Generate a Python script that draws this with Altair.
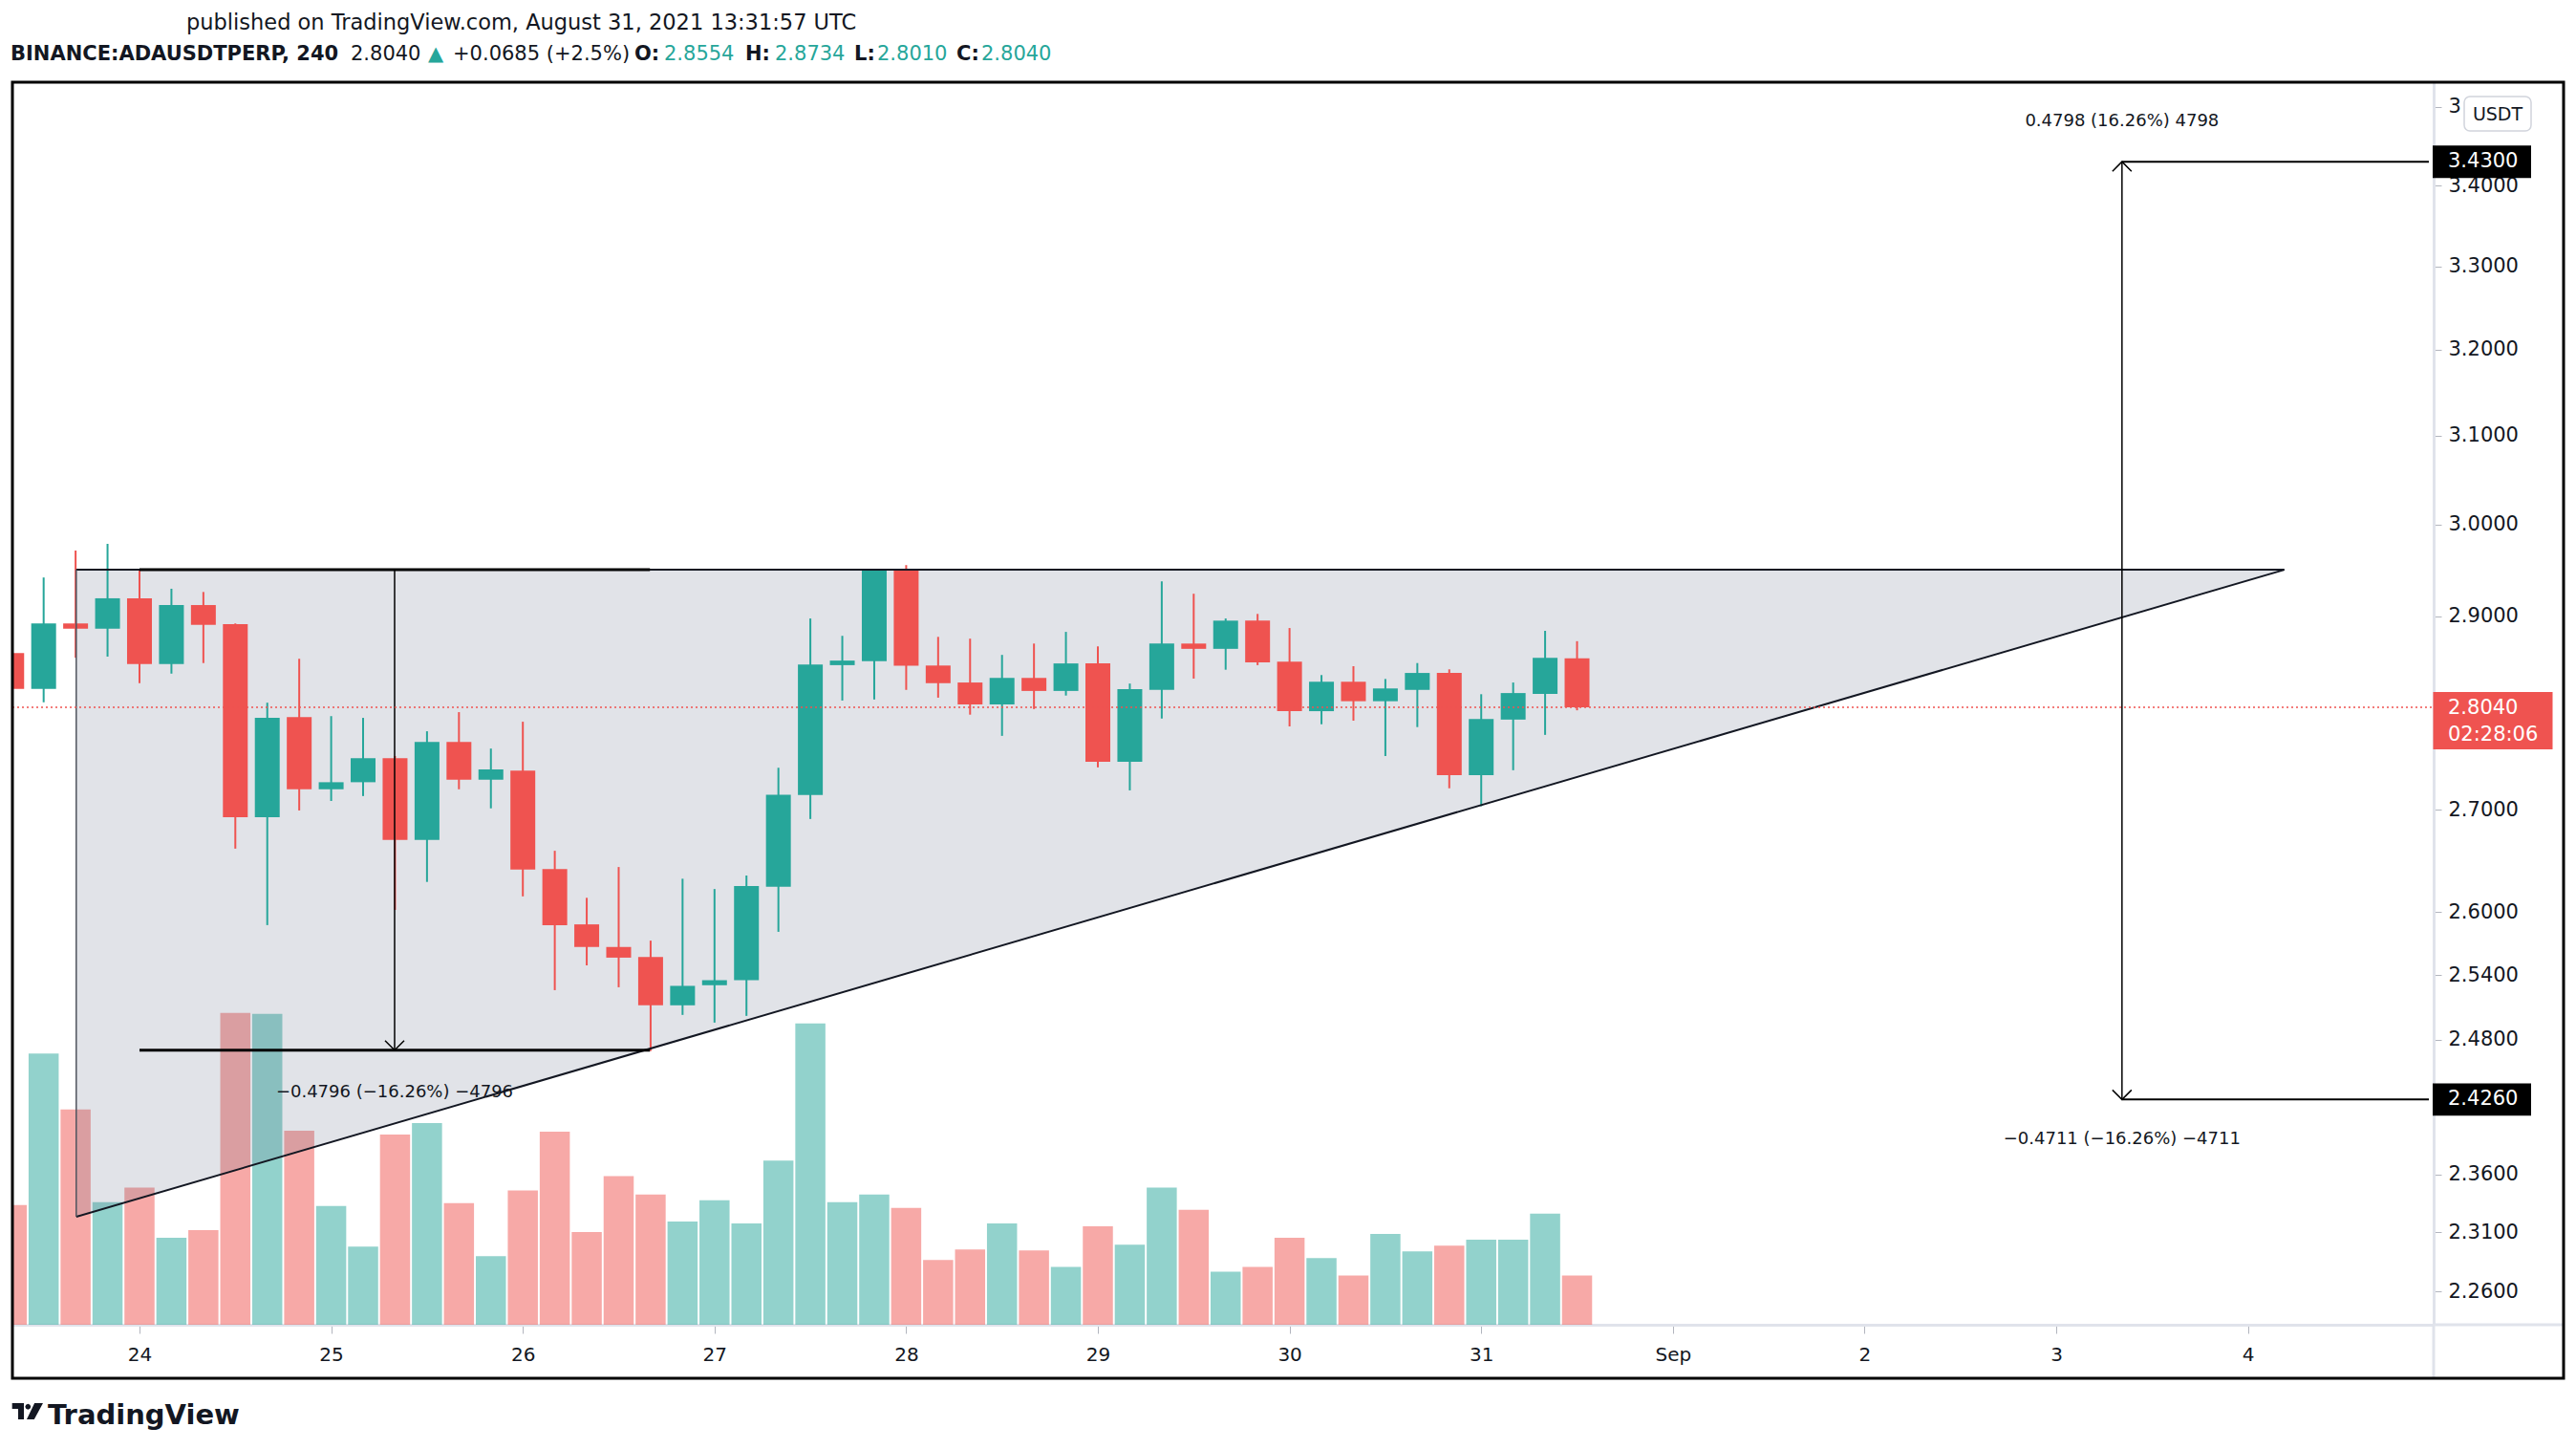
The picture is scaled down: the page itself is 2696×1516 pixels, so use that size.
import altair as alt
import pandas as pd
import numpy as np

# ---------------- data (4h candles, BINANCE:ADAUSDTPERP) ----------------
first_candle_day = 23 + 8 / 24      # Aug 23 08:00 UTC, day-of-August scale
candle_step = 4 / 24                # 240 minutes
opens = [2.8608, 2.8233, 2.8923, 2.8867, 2.9193, 2.8492, 2.9120, 2.8915, 2.6926, 2.7939,
         2.7205, 2.7276, 2.7519, 2.6702, 2.7685, 2.7301, 2.7393, 2.6414, 2.5881, 2.5666,
         2.5572, 2.5119, 2.5306, 2.5353, 2.6242, 2.7148, 2.8481, 2.8522, 2.9496, 2.8477,
         2.8299, 2.8071, 2.8347, 2.8211, 2.8499, 2.7483, 2.8222, 2.8709, 2.8653, 2.8953,
         2.8518, 2.8001, 2.8307, 2.8104, 2.8222, 2.8399, 2.7347, 2.7914, 2.8181, 2.8554]
highs = [2.8750, 2.9418, 2.9712, 2.9786, 2.9507, 2.9296, 2.9261, 2.8923, 2.8089, 2.8548,
         2.7950, 2.7932, 2.7541, 2.7794, 2.7991, 2.7617, 2.7892, 2.6594, 2.6136, 2.6435,
         2.5726, 2.6321, 2.6221, 2.6352, 2.7422, 2.8976, 2.8791, 2.9510, 2.9553, 2.8780,
         2.8761, 2.8589, 2.8709, 2.8833, 2.8679, 2.8288, 2.9376, 2.9242, 2.8976, 2.9025,
         2.8874, 2.8377, 2.8470, 2.8336, 2.8503, 2.8437, 2.8177, 2.8299, 2.8844, 2.8734]
lows = [2.8150, 2.8093, 2.8559, 2.8571, 2.8292, 2.8392, 2.8503, 2.6615, 2.5874, 2.6993,
        2.7088, 2.7137, 2.6020, 2.6290, 2.7205, 2.7014, 2.6150, 2.5260, 2.5492, 2.5287,
        2.4699, 2.5030, 2.4959, 2.5021, 2.5810, 2.6908, 2.8111, 2.8122, 2.8222, 2.8141,
        2.7965, 2.7747, 2.8023, 2.8163, 2.7426, 2.7194, 2.7925, 2.8340, 2.8433, 2.8481,
        2.7844, 2.7866, 2.7903, 2.7541, 2.7837, 2.7215, 2.7035, 2.7397, 2.7757, 2.8010]
closes = [2.8233, 2.8923, 2.8867, 2.9193, 2.8492, 2.9120, 2.8908, 2.6926, 2.7932, 2.7205,
          2.7276, 2.7519, 2.6702, 2.7685, 2.7301, 2.7404, 2.6410, 2.5874, 2.5666, 2.5565,
          2.5119, 2.5300, 2.5353, 2.6249, 2.7151, 2.8488, 2.8529, 2.9496, 2.8474, 2.8292,
          2.8071, 2.8347, 2.8211, 2.8499, 2.7483, 2.8229, 2.8709, 2.8653, 2.8953, 2.8511,
          2.8001, 2.8307, 2.8104, 2.8237, 2.8399, 2.7347, 2.7921, 2.8189, 2.8559, 2.8040]
volumes = [372, 843, 669, 381, 426, 270, 294, 969, 966, 603,
           369, 243, 591, 627, 378, 213, 417, 600, 288, 462,
           405, 321, 387, 315, 510, 936, 381, 405, 363, 201,
           234, 315, 231, 180, 306, 249, 426, 357, 165, 180,
           270, 207, 153, 282, 228, 246, 264, 264, 345, 153]

y_ticks = [2.26, 2.31, 2.36, 2.48, 2.54, 2.6, 2.7, 2.9, 3.0, 3.1, 3.2, 3.3, 3.4, 3.5]
x_ticks = [24, 25, 26, 27, 28, 29, 30, 31, 32, 33, 34, 35]

last_price = 2.8040
# ascending triangle drawing
tri_days = [23.670, 35.19]
tri_lower = [2.3232, 2.9502]
tri_upper = [2.9502, 2.9502]
# left price-range tool
range1_days = [24.0, 26.663]
range1_mid = 25.331
range1_top, range1_bottom = 2.9502, 2.4706
# right-hand projection arrows
proj_day = 34.343
proj_up, proj_down = 3.4300, 2.4260
x_right_edge = 35.944

label_left = "\u22120.4796 (\u221216.26%) \u22124796"
label_up = "0.4798 (16.26%) 4798"
label_down = "\u22120.4711 (\u221216.26%) \u22124711"

# ---------------- layout / style ----------------
W, H = 2534, 1300
GREEN, RED = "#26a69a", "#ef5350"
TXT = "#131722"
FONT = "DejaVu Sans"

df = pd.DataFrame({
    "day": [first_candle_day + i * candle_step for i in range(len(opens))],
    "open": opens, "high": highs, "low": lows, "close": closes, "volume": volumes,
})
df["dir"] = np.where(df["close"] >= df["open"], "up", "down")

xscale = alt.Scale(domain=[23.362, 35.944], nice=False, zero=False)
yscale = alt.Scale(type="log", domain=[2.2324, 3.5322], nice=False)
cscale = alt.Scale(domain=["up", "down"], range=[GREEN, RED])

x_axis = alt.Axis(
    values=x_ticks, title=None, grid=False,
    labelExpr="datum.value == 32 ? 'Sep' : (datum.value > 32 ? format(datum.value - 31, 'd') : format(datum.value, 'd'))",
    domainColor="#e0e3eb", domainWidth=3, tickColor="#b2b5be", tickSize=9, tickWidth=1,
    labelPadding=28, labelBaseline="alphabetic", labelFontSize=20, labelFont=FONT,
    labelColor=TXT, labelFlush=False, labelOverlap=False,
)
# the top tick (3.5) is mostly hidden behind the currency badge: only its "3" shows
y_axis = alt.Axis(
    orient="right", values=y_ticks, title=None, grid=False,
    labelExpr="datum.value > 3.45 ? '3' : format(datum.value, '.4f')",
    domainColor="#e0e3eb", domainWidth=3, tickColor="#b2b5be", tickSize=8, tickWidth=1,
    labelPadding=7, labelAlign="left", labelBaseline="middle", labelFontSize=21,
    labelFont=FONT, labelColor=TXT, labelFlush=False, labelOverlap=False,
)


def X(field):
    return alt.X(field, scale=xscale, axis=x_axis)


def Y(field):
    return alt.Y(field, scale=yscale, axis=y_axis)


one = pd.DataFrame({"a": [0]})

# volume (own y scale, bottom of pane)
volume = alt.Chart(df).mark_bar(size=31.5, opacity=0.5, clip=True, orient="vertical").encode(
    x=X("day:Q"),
    y=alt.Y("volume:Q", scale=alt.Scale(domain=[0, 3861], nice=False), axis=None, stack=None),
    color=alt.Color("dir:N", scale=cscale, legend=None),
)

tri_df = pd.DataFrame({"day": tri_days, "lo": tri_lower, "hi": tri_upper})
tri_fill = alt.Chart(tri_df).mark_area(color="#69738c", opacity=0.2).encode(
    x=X("day:Q"), y=Y("lo:Q"), y2="hi:Q",
)

wicks = alt.Chart(df).mark_rule(strokeWidth=2, clip=True).encode(
    x=X("day:Q"), y=Y("low:Q"), y2="high:Q",
    color=alt.Color("dir:N", scale=cscale, legend=None),
)
bodies = alt.Chart(df).mark_bar(size=26, clip=True, orient="vertical").encode(
    x=X("day:Q"), y=Y("open:Q"), y2="close:Q",
    color=alt.Color("dir:N", scale=cscale, legend=None),
)


def segs(x0, x1, y0, y1, width, color="#000000"):
    d = pd.DataFrame({"x0": x0, "x1": x1, "y0": y0, "y1": y1})
    return alt.Chart(d).mark_rule(strokeWidth=width, color=color).encode(
        x=X("x0:Q"), x2="x1:Q", y=Y("y0:Q"), y2="y1:Q",
    )


tri_lines = segs([tri_days[0], tri_days[0]], [tri_days[1], tri_days[1]],
                 [tri_upper[0], tri_lower[0]], [tri_upper[1], tri_lower[1]], 2, "#131722")
tri_left = segs([tri_days[0]], [tri_days[0]], [tri_lower[0]], [tri_upper[0]], 1.5, "#50535e")
range_h = segs([range1_days[0]] * 2, [range1_days[1]] * 2, [range1_top, range1_bottom],
               [range1_top, range1_bottom], 3)
thin_v = segs([range1_mid, proj_day], [range1_mid, proj_day], [range1_top, proj_up],
              [range1_bottom, proj_down], 1.5)
proj_h = segs([proj_day] * 2, [x_right_edge] * 2, [proj_up, proj_down], [proj_up, proj_down], 2)

down_pts = pd.DataFrame({"day": [range1_mid, proj_day], "p": [range1_bottom, proj_down]})
up_pts = pd.DataFrame({"day": [proj_day], "p": [proj_up]})
arrow_down = alt.Chart(down_pts).mark_point(
    shape="M -1 -1 L 0 0 L 1 -1", size=400, filled=False, color="#000", strokeWidth=1.5, opacity=1
).encode(x=X("day:Q"), y=Y("p:Q"))
arrow_up = alt.Chart(up_pts).mark_point(
    shape="M -1 1 L 0 0 L 1 1", size=400, filled=False, color="#000", strokeWidth=1.5, opacity=1
).encode(x=X("day:Q"), y=Y("p:Q"))


def anchored_text(day, price, text, dy):
    d = pd.DataFrame({"day": [day], "p": [price], "t": [text]})
    return alt.Chart(d).mark_text(dy=dy, fontSize=18, font=FONT, color=TXT, align="center",
                                  baseline="middle").encode(x=X("day:Q"), y=Y("p:Q"), text="t:N")


lbl1 = anchored_text(range1_mid, range1_bottom, label_left, 44)
lbl2 = anchored_text(proj_day, proj_up, label_up, -42)
lbl3 = anchored_text(proj_day, proj_down, label_down, 42)

price_line = alt.Chart(pd.DataFrame({"p": [last_price]})).mark_rule(
    color=RED, strokeDash=[2, 3], strokeWidth=1.5).encode(
    y=Y("p:Q"), x=alt.value(0), x2=alt.value(W))

# price-axis tags
tag_df = pd.DataFrame({"p": [proj_up, proj_down]})
tags = alt.Chart(tag_df).mark_point(
    shape="M -1 -0.33 L 1 -0.33 L 1 0.33 L -1 0.33 Z", size=103 * 103, filled=True,
    color="#000000", opacity=1, strokeWidth=0).encode(y=Y("p:Q"), x=alt.value(W + 50.5))
tag_txt = alt.Chart(tag_df).mark_text(
    fontSize=21, font=FONT, color="white", align="left", baseline="middle").encode(
    y=Y("p:Q"), x=alt.value(W + 15), text=alt.Text("p:Q", format=".4f"))
last_df = pd.DataFrame({"p": [last_price], "t": ["02:28:06"]})
last_tag = alt.Chart(last_df).mark_point(
    shape="M -1 -0.256 L 1 -0.256 L 1 0.704 L -1 0.704 Z", size=125 * 125, filled=True,
    color=RED, opacity=1, strokeWidth=0).encode(y=Y("p:Q"), x=alt.value(W + 62))
last_txt1 = alt.Chart(last_df).mark_text(
    dy=1, fontSize=21, font=FONT, color="white", align="left", baseline="middle").encode(
    y=Y("p:Q"), x=alt.value(W + 15), text=alt.Text("p:Q", format=".4f"))
last_txt2 = alt.Chart(last_df).mark_text(
    dy=29, fontSize=21, font=FONT, color="white", align="left", baseline="middle").encode(
    y=Y("p:Q"), x=alt.value(W + 15), text="t:N")

usdt_box = alt.Chart(one).mark_rect(fill="white", stroke="#d1d4dc", strokeWidth=1.5, cornerRadius=6).encode(
    x=alt.value(W + 32), x2=alt.value(W + 102), y=alt.value(15), y2=alt.value(51))
usdt_txt = alt.Chart(one).mark_text(fontSize=19, font=FONT, color=TXT, align="center", baseline="middle").encode(
    x=alt.value(W + 67), y=alt.value(34), text=alt.value("USDT"))

# outer frame and separators
frame = alt.Chart(one).mark_rect(fillOpacity=0, stroke="#000000", strokeWidth=3).encode(
    x=alt.value(0), x2=alt.value(2670), y=alt.value(0), y2=alt.value(1356))
sep_v = alt.Chart(one).mark_rule(color="#e0e3eb", strokeWidth=3).encode(
    x=alt.value(W), y=alt.value(H), y2=alt.value(1356))
sep_h = alt.Chart(one).mark_rule(color="#e0e3eb", strokeWidth=3).encode(
    x=alt.value(W), x2=alt.value(2670), y=alt.value(H))


def px_text(text, x, y, size=20, color=TXT, weight="normal", font=FONT, baseline="middle"):
    return alt.Chart(one).mark_text(fontSize=size, font=font, color=color, fontWeight=weight,
                                    align="left", baseline=baseline).encode(
        x=alt.value(x), y=alt.value(y), text=alt.value(text))


header = [
    px_text("published on TradingView.com, August 31, 2021 13:31:57 UTC", 182, -62, size=22.5),
    px_text("BINANCE:ADAUSDTPERP, 240", -2, -29, size=21, weight="bold"),
    px_text("2.8040", 354, -29, size=21),
    px_text("\u25b2", 435, -29, size=21, color=GREEN),
    px_text("+0.0685 (+2.5%)", 461, -29, size=21),
    px_text("O:", 651, -29, size=21, weight="bold"), px_text("2.8554", 682, -29, size=21, color=GREEN),
    px_text("H:", 767, -29, size=21, weight="bold"), px_text("2.8734", 798, -29, size=21, color=GREEN),
    px_text("L:", 881, -29, size=21, weight="bold"), px_text("2.8010", 905, -29, size=21, color=GREEN),
    px_text("C:", 988, -29, size=21, weight="bold"), px_text("2.8040", 1014, -29, size=21, color=GREEN),
]

logo_path = ("M -0.96 -0.5 L -0.235 -0.5 L -0.235 0.5 L -0.588 0.5 L -0.588 -0.147 L -0.96 -0.147 Z "
             "M -0.158 -0.28 L -0.106 -0.404 L 0.018 -0.456 L 0.142 -0.404 L 0.194 -0.28 "
             "L 0.142 -0.156 L 0.018 -0.104 L -0.106 -0.156 Z "
             "M 0.42 -0.5 L 0.94 -0.5 L 0.40 0.5 L -0.06 0.5 Z")
logo_mark = alt.Chart(one).mark_point(shape=logo_path, size=34 * 34, filled=True, color=TXT,
                                      opacity=1, strokeWidth=0).encode(
    x=alt.value(16), y=alt.value(1390.5))
logo_txt = px_text("TradingView", 37, 1404, size=29, weight="bold", baseline="alphabetic")

price_pane = alt.layer(
    tri_fill, wicks, bodies, tri_lines, tri_left, range_h, thin_v, proj_h,
    arrow_down, arrow_up, lbl1, lbl2, lbl3, price_line,
    tags, tag_txt, last_tag, last_txt1, last_txt2, usdt_box, usdt_txt,
    sep_v, sep_h, frame, *header, logo_mark, logo_txt,
)

chart = alt.layer(volume, price_pane).resolve_scale(y="independent").properties(
    width=W, height=H,
    autosize=alt.AutoSizeParams(type="none"),
    padding={"left": 5, "top": 78, "right": 138, "bottom": 110},
).configure(background="white").configure_view(stroke=None)

chart.save("out.html", embed_options={"renderer": "svg", "actions": False})
